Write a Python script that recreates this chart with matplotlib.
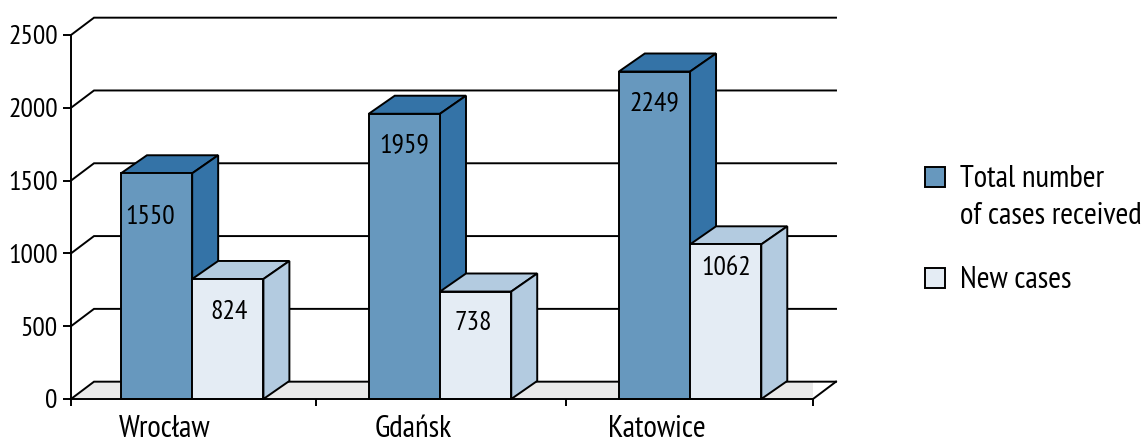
import matplotlib

matplotlib.use("agg")

import matplotlib.pyplot as plt
from matplotlib.patches import Rectangle

plt.rcParams["font.family"] = ["PT Sans Narrow", "Fira Sans Extra Condensed", "Liberation Sans"]
plt.rcParams["font.size"] = 20
word_size = 22.3

cities = ["Wrocław", "Gdańsk", "Katowice"]
total_cases = [1550, 1959, 2249]
new_cases = [824, 738, 1062]
y_ticks = [0, 500, 1000, 1500, 2000, 2500]

# Layout of the groups, the original is not quite regular
bar_mid = [0.49, 1.492, 2.503]
x_ticks = [0, 0.99, 2, 3]

# Label tweaks in pixels, the labels are not placed consistently in the original
total_label_shift = [(-6, -44), (0, -31), (0, -32)]
new_label_shift = [(1, -33), (-2, -31), (0, -24)]
city_label_shift = [-28, -27, -33]

total_front, total_dark = "#6798be", "#3473a7"
new_front, new_side = "#e4ecf4", "#b3cbe0"
floor_color = "#e9e9e9"
line_w = 1.4

# Fake 3D depth, in data units
wall_dx, wall_dy = 0.093, 119
bar_dx, bar_dy = 0.105, 124
bar_w = 0.288

W, H = 1148, 441
fig = plt.figure(figsize=(W / 100, H / 100), dpi=100)
ax = fig.add_axes([71 / W, 42 / H, 742 / W, 364 / H])
ax.set_xlim(0, 3)
ax.set_ylim(0, 2500)
for side in ["top", "right"]:
    ax.spines[side].set_visible(False)
for side in ["left", "bottom"]:
    ax.spines[side].set_linewidth(line_w)
    ax.spines[side].set_zorder(6)

ax.set_yticks(y_ticks)
ax.set_xticks(x_ticks)
ax.set_xticklabels([])
ax.tick_params(axis="y", length=5.5, width=line_w, pad=4)
ax.tick_params(axis="x", length=5, width=line_w)

# Floor and back wall
ax.fill([0, wall_dx, 3 + wall_dx, 3], [0, wall_dy, wall_dy, 0], color=floor_color, lw=0, zorder=1)
for tick in y_ticks:
    ax.plot([0, wall_dx, 3 + wall_dx], [tick, tick + wall_dy, tick + wall_dy],
            color="black", lw=line_w, zorder=2, clip_on=False, solid_joinstyle="miter")
ax.plot([3, 3 + wall_dx], [0, wall_dy], color="black", lw=line_w, zorder=2, clip_on=False)


def draw_bar(left, value, front, top, side, zorder):
    right = left + bar_w
    style = dict(edgecolor="black", lw=line_w, zorder=zorder, clip_on=False, joinstyle="miter")
    ax.fill([left, left + bar_dx, right + bar_dx, right],
            [value, value + bar_dy, value + bar_dy, value], facecolor=top, **style)
    ax.fill([right, right + bar_dx, right + bar_dx, right],
            [0, bar_dy, value + bar_dy, value], facecolor=side, **style)
    ax.fill([left, right, right, left], [0, 0, value, value], facecolor=front, **style)


for i, city in enumerate(cities):
    mid = bar_mid[i]
    draw_bar(mid - bar_w, total_cases[i], total_front, total_dark, total_dark, 3 + i)
    draw_bar(mid, new_cases[i], new_front, new_side, new_side, 3.5 + i)
    ax.annotate(str(total_cases[i]), (mid - bar_w / 2, total_cases[i]),
                xytext=total_label_shift[i], textcoords="offset pixels",
                ha="center", va="center", zorder=10)
    ax.annotate(str(new_cases[i]), (mid + bar_w / 2, new_cases[i]),
                xytext=new_label_shift[i], textcoords="offset pixels",
                ha="center", va="center", zorder=10)
    ax.annotate(city, (mid, 0), xytext=(city_label_shift[i], -30), textcoords="offset pixels",
                ha="center", va="center", annotation_clip=False, fontsize=word_size)

# Legend by hand, the swatch sits on the first line of the two line label
legend_items = [("Total number\nof cases received", total_front, 167),
                ("New cases", new_front, 268)]
for label, color, top_px in legend_items:
    fig.add_artist(Rectangle((925 / W, 1 - (top_px + 20) / H), 20 / W, 20 / H, facecolor=color,
                             edgecolor="black", lw=line_w, transform=fig.transFigure))
    fig.text(960 / W, 1 - (top_px - 2) / H, label, va="top", linespacing=1.42, fontsize=word_size)

fig.savefig("out.png", dpi=100)
